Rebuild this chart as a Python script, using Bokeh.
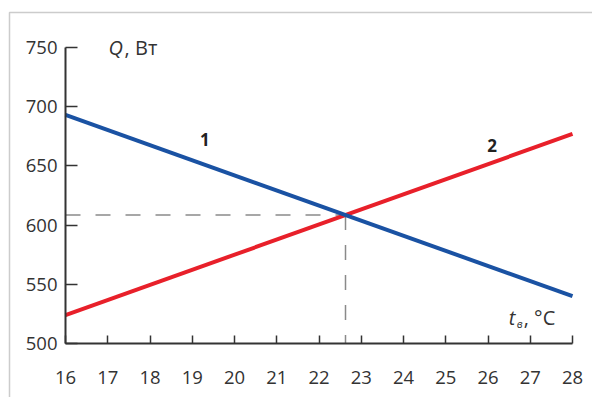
from bokeh.plotting import figure
from bokeh.models import Range1d, FixedTicker, BoxAnnotation
from bokeh.core.properties import value
from bokeh.embed import file_html
from bokeh.resources import INLINE

# --- data -------------------------------------------------------------
t_ticks = list(range(16, 29))                 # indoor temperature, °C
q_ticks = [500, 550, 600, 650, 700, 750]      # heat flow, W
t_ends = [16, 28]
q_line1 = [693, 540]                          # curve 1 (decreasing)
q_line2 = [524, 677]                          # curve 2 (increasing)
curve_labels = ["1", "2"]
curve_label_t = [19.3, 26.1]
curve_label_q = [672, 667]

# --- layout -----------------------------------------------------------
W, H = 592, 397
PX_T = 42.25          # pixels per °C
PX_Q = 1.184          # pixels per W
AX_X, AX_Y = 65, 343  # canvas position of the axes corner (16 °C, 500 W)

x_start = t_ticks[0] - AX_X / PX_T
x_end = x_start + W / PX_T
y_start = q_ticks[0] - (H - AX_Y) / PX_Q
y_end = y_start + H / PX_Q

FONT = "Open Sans"
TXT = "#333333"

p = figure(width=W, height=H, x_range=Range1d(x_start, x_end),
           y_range=Range1d(y_start, y_end), min_border=0,
           toolbar_location=None, output_backend="svg")
p.outline_line_color = None
p.grid.visible = False
p.background_fill_color = "white"
p.border_fill_color = "white"

# surrounding frame (left and top edges visible)
p.add_layout(BoxAnnotation(left=x_start + 9 / PX_T, top=y_end - 12 / PX_Q,
                           right=x_end + 5, bottom=y_start - 50,
                           fill_alpha=0, line_color="#555555", line_width=1.5))

# axes placed at the data origin
xa = p.xaxis[0]
xa.fixed_location = q_ticks[0]
xa.bounds = (t_ticks[0], t_ticks[-1])
xa.ticker = FixedTicker(ticks=t_ticks)
xa.major_tick_in = 8
xa.major_tick_out = 0
xa.minor_tick_line_color = None
xa.major_label_standoff = 27

ya = p.yaxis[0]
ya.fixed_location = t_ticks[0]
ya.bounds = (q_ticks[0], q_ticks[-1])
ya.ticker = FixedTicker(ticks=q_ticks)
ya.major_tick_in = 12
ya.major_tick_out = 0
ya.minor_tick_line_color = None
ya.major_label_standoff = 8

for ax in (xa, ya):
    ax.axis_line_color = "#333333"
    ax.axis_line_width = 2
    ax.major_tick_line_color = "#333333"
    ax.major_tick_line_width = 1.5
    ax.major_label_text_font = FONT
    ax.major_label_text_font_size = "18.5px"
    ax.major_label_text_color = TXT

# intersection point of the two curves
s1 = (q_line1[1] - q_line1[0]) / (t_ends[1] - t_ends[0])
s2 = (q_line2[1] - q_line2[0]) / (t_ends[1] - t_ends[0])
t_x = t_ends[0] + (q_line2[0] - q_line1[0]) / (s1 - s2)
q_x = q_line1[0] + s1 * (t_x - t_ends[0])

p.line([t_ticks[0], t_x], [q_x, q_x], line_color="#8a8a8a", line_width=1.5,
       line_dash="15 15")
p.line([t_x, t_x], [q_x, q_ticks[0]], line_color="#8a8a8a", line_width=1.5,
       line_dash="15 15")

p.line(t_ends, q_line2, line_color="#e8202a", line_width=4)
p.line(t_ends, q_line1, line_color="#1a52a3", line_width=4)

p.text(curve_label_t, curve_label_q, text=curve_labels,
       text_font=value(FONT), text_font_size="17px", text_font_style="bold",
       text_color="#222222", text_align="center", text_baseline="middle")

# axis titles
p.text([17.02], [750], text=["Q"], text_font=value(FONT), text_font_size="20px",
       text_font_style="italic", text_color=TXT, text_baseline="alphabetic")
p.text([17.02], [750], text=[", Вт"], x_offset=16, text_font=value(FONT),
       text_font_size="20px", text_color=TXT, text_baseline="alphabetic")

p.text([26.49], [522], text=["t"], text_font=value(FONT), text_font_size="20px",
       text_font_style="italic", text_color=TXT, text_baseline="alphabetic")
p.text([26.49], [522], text=["в"], x_offset=8, y_offset=6, text_font=value(FONT),
       text_font_size="11px", text_font_style="italic", text_color=TXT,
       text_baseline="alphabetic")
p.text([26.49], [522], text=[", °C"], x_offset=15, text_font=value(FONT),
       text_font_size="20px", text_color=TXT, text_baseline="alphabetic")

open("out.html", "w").write(file_html(p, INLINE))
